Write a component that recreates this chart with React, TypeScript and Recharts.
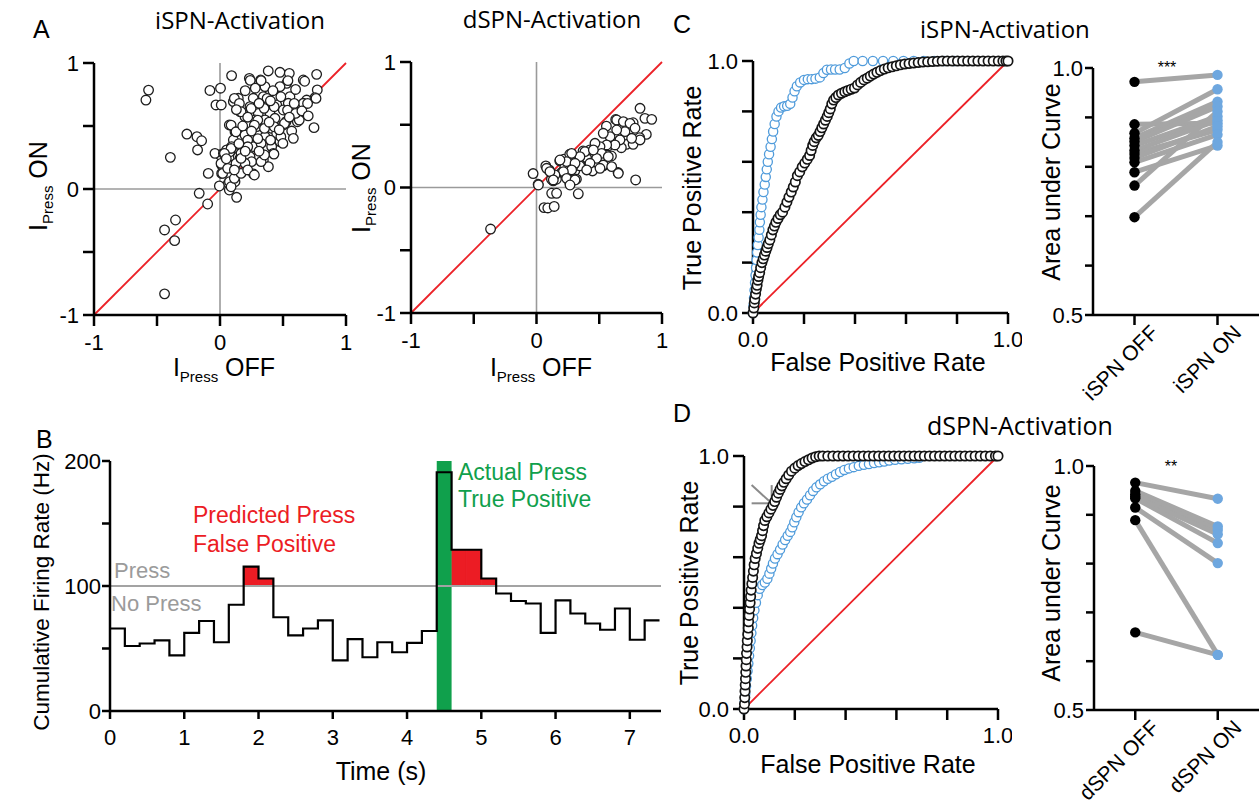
import React from 'react';
import {
  ScatterChart, Scatter, XAxis, YAxis, ReferenceLine, ReferenceArea,
  ComposedChart, Line, LineChart,
} from 'recharts';

const FONT = '"Liberation Sans", Arial, sans-serif';
const TFONT = '"Open Sans", "Liberation Sans", sans-serif';

// ---------------- Panel A data (I_Press OFF, I_Press ON) ----------------
const ispnScatter: [number, number][] = [
  [-0.567, 0.785], [-0.588, 0.706], [-0.394, 0.251], [-0.263, 0.436], [-0.183, 0.415], [-0.146, 0.383],
  [-0.178, 0.31], [-0.165, -0.034], [-0.098, -0.119], [-0.093, 0.124], [-0.44, -0.325], [-0.353, -0.246],
  [-0.36, -0.41], [-0.44, -0.832], [-0.08, 0.782], [0.004, 0.8], [-0.032, 0.667], [0.01, 0.667],
  [0.092, 0.9], [0.233, 0.878], [0.24, 0.862], [0.383, 0.937], [0.476, 0.926], [0.55, 0.918], [0.767, 0.91],
  [0.661, 0.865], [0.322, 0.865], [0.529, 0.839], [0.357, 0.812], [0.476, 0.812], [0.772, 0.786], [0.145, 0.72],
  [0.106, 0.693], [0.264, 0.72], [0.344, 0.733], [0.45, 0.733], [0.555, 0.733], [0.688, 0.706], [0.754, 0.725],
  [0.648, 0.667], [0.542, 0.68], [0.45, 0.667], [0.37, 0.667], [0.238, 0.653], [0.159, 0.614], [0.304, 0.6],
  [0.397, 0.6], [0.502, 0.627], [0.587, 0.6], [0.661, 0.68], [0.198, 0.574], [0.278, 0.548], [0.357, 0.548],
  [0.436, 0.561], [0.524, 0.534], [0.614, 0.534], [0.746, 0.487], [0.074, 0.508], [0.119, 0.455], [0.291, 0.495],
  [0.41, 0.481], [0.502, 0.508], [0.569, 0.46], [0.198, 0.429], [0.264, 0.402], [0.357, 0.415], [0.45, 0.442],
  [0.582, 0.402], [0.476, 0.376], [0.106, 0.389], [0.053, 0.31], [0.0, 0.27], [-0.04, 0.283], [0.092, 0.336],
  [0.172, 0.323], [0.264, 0.336], [0.41, 0.336], [0.145, 0.257], [0.238, 0.257], [0.344, 0.23], [0.423, 0.283],
  [0.027, 0.283], [0.079, 0.296], [0.159, 0.243], [0.251, 0.217], [0.384, 0.177], [0.013, 0.19], [0.079, 0.19],
  [0.013, 0.124], [0.132, 0.138], [0.265, 0.119], [0.119, 0.058], [0.066, 0.045], [-0.005, 0.024], [0.074, -0.008],
  [0.132, -0.066], [0.198, 0.204], [0.114, 0.719], [0.154, 0.679], [0.167, 0.613], [0.247, 0.639], [0.3, 0.547],
  [0.374, 0.719], [0.43, 0.653], [0.483, 0.732], [0.536, 0.626], [0.589, 0.679], [0.629, 0.547], [0.695, 0.679],
  [0.762, 0.719], [0.088, 0.507], [0.127, 0.454], [0.22, 0.388], [0.273, 0.507], [0.353, 0.481], [0.43, 0.494],
  [0.512, 0.52], [0.483, 0.415], [0.499, 0.362], [0.401, 0.388], [0.326, 0.362], [0.22, 0.335], [0.167, 0.283],
  [0.088, 0.322], [0.035, 0.283], [0.008, 0.203], [0.127, 0.203], [0.167, 0.243], [0.326, 0.217], [0.428, 0.277],
  [0.353, 0.27], [0.021, 0.124], [0.075, 0.058], [0.088, 0.018], [0.114, 0.085], [0.167, 0.124], [0.22, 0.151],
  [0.273, 0.111], [0.061, 0.164], [0.114, 0.151], [0.326, 0.86], [0.672, 0.855], [0.539, 0.86], [0.2, 0.78],
  [0.28, 0.8], [0.42, 0.78], [0.6, 0.79], [0.35, 0.64], [0.6, 0.6], [0.18, 0.5], [0.25, 0.46], [0.39, 0.53],
  [0.55, 0.57], [0.3, 0.4], [0.05, 0.24], [0.2, 0.3], [0.31, 0.3], [0.47, 0.47], [0.65, 0.62], [0.7, 0.58],
  [0.15, 0.36], [0.22, 0.57], [0.4, 0.7], [0.31, 0.68], [0.13, 0.63],
];

const dspnScatter: [number, number][] = [
  [-0.366, -0.331], [-0.027, 0.111], [0.013, 0.026], [0.074, 0.172], [0.101, 0.14], [0.06, -0.16], [0.09, -0.163],
  [0.141, -0.151], [0.121, -0.046], [0.16, -0.046], [0.133, 0.053], [0.186, 0.212], [0.218, 0.225], [0.252, 0.119],
  [0.265, 0.265], [0.305, 0.132], [0.333, -0.05], [0.265, 0.04], [0.318, 0.066], [0.324, 0.193], [0.371, 0.291],
  [0.419, 0.198], [0.446, 0.132], [0.451, 0.278], [0.491, 0.317], [0.531, 0.172], [0.557, 0.265], [0.57, 0.331],
  [0.61, 0.357], [0.642, 0.405], [0.65, 0.119], [0.557, 0.489], [0.631, 0.542], [0.69, 0.489], [0.703, 0.384],
  [0.716, 0.344], [0.743, 0.463], [0.77, 0.516], [0.79, 0.06], [0.825, 0.631], [0.864, 0.551], [0.918, 0.543],
  [0.875, 0.423], [0.822, 0.397], [0.77, 0.344], [0.676, 0.317], [0.597, 0.251], [0.531, 0.251], [0.464, 0.204],
  [0.398, 0.238], [0.345, 0.172], [0.292, 0.172], [0.239, 0.193], [0.225, 0.159], [0.199, 0.119], [0.159, 0.066],
  [0.119, 0.066], [0.639, 0.538], [0.692, 0.525], [0.745, 0.511], [0.785, 0.472], [0.825, 0.379], [0.758, 0.392],
  [0.705, 0.445], [0.639, 0.458], [0.586, 0.405], [0.532, 0.432], [0.665, 0.379], [0.625, 0.339], [0.559, 0.339],
  [0.506, 0.326], [0.466, 0.352], [0.426, 0.299], [0.519, 0.272], [0.572, 0.246], [0.479, 0.232], [0.386, 0.286],
  [0.346, 0.246], [0.28, 0.272], [0.24, 0.206], [0.187, 0.219], [0.307, 0.193], [0.426, 0.193], [0.532, 0.179],
  [0.599, 0.166], [0.506, 0.153], [0.652, 0.113], [0.28, 0.14], [0.214, 0.126], [0.147, 0.1], [0.24, 0.073],
  [0.307, 0.06], [0.081, 0.153], [0.107, 0.126], [0.015, 0.02], [0.134, 0.06], [0.267, 0.02], [0.4, 0.14],
  [0.453, 0.299],
];
const unitTicks = [-1, -0.5, 0, 0.5, 1];

// ---------------- Panel B data ----------------
const binEdges = [0, 0.2, 0.4, 0.6, 0.8, 1.0, 1.2, 1.4, 1.6, 1.8, 2.0, 2.2, 2.4, 2.6, 2.8, 3.0, 3.2, 3.4, 3.6,
  3.8, 4.0, 4.2, 4.4, 4.6, 4.8, 5.0, 5.2, 5.4, 5.6, 5.8, 6.0, 6.2, 6.4, 6.6, 6.8, 7.0, 7.2, 7.4];
const firingRate = [66, 52, 54, 56.5, 44.5, 62.5, 72, 55, 85, 115.5, 106, 75, 60.5, 66, 72.5, 40.5, 57.5, 43, 55,
  47, 54.5, 64, 191, 129, 129, 106, 94, 88, 86, 62.5, 88.5, 78, 70, 65, 82, 57, 72.5];
const pressThreshold = 100;
const actualPress = [4.4, 4.6];
const timeTicks = [0, 1, 2, 3, 4, 5, 6, 7];
const rateTicks = [0, 50, 100, 150, 200];

// ---------------- ROC data [FPR, TPR] ----------------
const rocC_black: [number, number][] = [
  [0, 0], [0.003, 0.02], [0.005, 0.04], [0.007, 0.055], [0.01, 0.075], [0.013, 0.095], [0.016, 0.11], [0.019, 0.13],
  [0.022, 0.145], [0.026, 0.16], [0.03, 0.18], [0.035, 0.2], [0.04, 0.215], [0.045, 0.23], [0.05, 0.245],
  [0.055, 0.26], [0.06, 0.275], [0.066, 0.29], [0.072, 0.31], [0.078, 0.33], [0.084, 0.345], [0.09, 0.36],
  [0.098, 0.375], [0.107, 0.39], [0.116, 0.4], [0.125, 0.42], [0.133, 0.44], [0.141, 0.46], [0.15, 0.48],
  [0.158, 0.5], [0.166, 0.52], [0.174, 0.545], [0.183, 0.56], [0.193, 0.58], [0.203, 0.595], [0.213, 0.61],
  [0.222, 0.625], [0.228, 0.645], [0.234, 0.665], [0.24, 0.68], [0.248, 0.695], [0.256, 0.705], [0.263, 0.72],
  [0.27, 0.735], [0.277, 0.75], [0.284, 0.765], [0.291, 0.78], [0.297, 0.795], [0.303, 0.81], [0.309, 0.83],
  [0.316, 0.845], [0.325, 0.855], [0.335, 0.865], [0.347, 0.872], [0.36, 0.878], [0.372, 0.883], [0.385, 0.888],
  [0.398, 0.893], [0.41, 0.905], [0.422, 0.915], [0.435, 0.925], [0.448, 0.932], [0.46, 0.94], [0.473, 0.948],
  [0.486, 0.955], [0.5, 0.962], [0.515, 0.968], [0.53, 0.973], [0.546, 0.977], [0.562, 0.981], [0.578, 0.985],
  [0.595, 0.988], [0.612, 0.99], [0.63, 0.992], [0.648, 0.994], [0.666, 0.996], [0.685, 0.997], [0.704, 0.998],
  [0.723, 0.999], [0.742, 1], [0.762, 1], [0.782, 1], [0.802, 1], [0.822, 1], [0.842, 1], [0.862, 1], [0.882, 1],
  [0.902, 1], [0.922, 1], [0.942, 1], [0.962, 1], [0.98, 1], [0.992, 1], [1, 1],
];
const rocC_blue: [number, number][] = [
  [0, 0], [0.002, 0.03], [0.004, 0.06], [0.006, 0.09], [0.008, 0.12], [0.01, 0.15], [0.012, 0.18], [0.014, 0.21],
  [0.016, 0.24], [0.019, 0.27], [0.022, 0.3], [0.025, 0.33], [0.027, 0.36], [0.03, 0.39], [0.033, 0.42],
  [0.037, 0.45], [0.041, 0.48], [0.046, 0.51], [0.05, 0.54], [0.054, 0.57], [0.058, 0.6], [0.063, 0.63],
  [0.069, 0.66], [0.074, 0.69], [0.079, 0.72], [0.085, 0.75], [0.092, 0.78], [0.1, 0.8], [0.11, 0.815],
  [0.122, 0.82], [0.134, 0.822], [0.146, 0.83], [0.155, 0.855], [0.163, 0.88], [0.172, 0.9], [0.185, 0.915],
  [0.2, 0.925], [0.215, 0.928], [0.23, 0.928], [0.245, 0.93], [0.262, 0.935], [0.276, 0.952], [0.29, 0.965],
  [0.306, 0.966], [0.322, 0.966], [0.34, 0.966], [0.36, 0.972], [0.378, 0.99], [0.395, 1], [0.43, 1], [0.47, 1],
  [0.51, 1], [0.55, 1], [0.59, 1], [0.63, 1], [0.67, 1], [0.71, 1], [0.75, 1], [0.79, 1],
];
const rocD_black: [number, number][] = [
  [0, 0], [0.002, 0.02], [0.003, 0.045], [0.004, 0.07], [0.005, 0.095], [0.006, 0.12], [0.007, 0.145],
  [0.008, 0.17], [0.009, 0.195], [0.01, 0.22], [0.012, 0.245], [0.013, 0.27], [0.015, 0.295], [0.017, 0.32],
  [0.018, 0.345], [0.02, 0.37], [0.022, 0.395], [0.024, 0.42], [0.026, 0.445], [0.028, 0.47], [0.031, 0.495],
  [0.034, 0.52], [0.037, 0.545], [0.04, 0.57], [0.044, 0.595], [0.049, 0.615], [0.054, 0.635], [0.059, 0.655],
  [0.064, 0.67], [0.069, 0.685], [0.073, 0.705], [0.077, 0.725], [0.082, 0.745], [0.09, 0.76], [0.098, 0.775],
  [0.106, 0.79], [0.114, 0.805], [0.121, 0.82], [0.128, 0.837], [0.135, 0.853], [0.142, 0.868], [0.149, 0.882],
  [0.157, 0.896], [0.166, 0.91], [0.176, 0.925], [0.187, 0.94], [0.2, 0.952], [0.213, 0.962], [0.226, 0.97],
  [0.24, 0.978], [0.254, 0.985], [0.268, 0.992], [0.282, 0.997], [0.296, 1], [0.31, 1], [0.33, 1], [0.35, 1],
  [0.37, 1], [0.39, 1], [0.41, 1], [0.43, 1], [0.45, 1], [0.47, 1], [0.49, 1], [0.51, 1], [0.53, 1], [0.55, 1],
  [0.57, 1], [0.59, 1], [0.61, 1], [0.63, 1], [0.65, 1], [0.67, 1], [0.69, 1], [0.71, 1], [0.73, 1], [0.75, 1],
  [0.77, 1], [0.79, 1], [0.81, 1], [0.83, 1], [0.85, 1], [0.87, 1], [0.89, 1], [0.91, 1], [0.93, 1], [0.95, 1],
  [0.97, 1], [0.99, 1], [1, 1],
];
const rocD_blue: [number, number][] = [
  [0, 0], [0.003, 0.03], [0.005, 0.06], [0.008, 0.09], [0.011, 0.12], [0.014, 0.15], [0.017, 0.18], [0.02, 0.21],
  [0.023, 0.24], [0.026, 0.27], [0.029, 0.3], [0.032, 0.33], [0.036, 0.36], [0.041, 0.39], [0.047, 0.42],
  [0.054, 0.45], [0.062, 0.475], [0.072, 0.49], [0.082, 0.5], [0.092, 0.515], [0.1, 0.535], [0.107, 0.555],
  [0.114, 0.575], [0.122, 0.595], [0.132, 0.612], [0.142, 0.63], [0.152, 0.65], [0.162, 0.668], [0.172, 0.685],
  [0.182, 0.7], [0.19, 0.718], [0.198, 0.738], [0.206, 0.758], [0.215, 0.778], [0.225, 0.797], [0.236, 0.813],
  [0.248, 0.828], [0.26, 0.845], [0.272, 0.862], [0.285, 0.876], [0.3, 0.888], [0.315, 0.9], [0.33, 0.91],
  [0.346, 0.918], [0.362, 0.928], [0.378, 0.937], [0.395, 0.945], [0.413, 0.951], [0.432, 0.956], [0.452, 0.961],
  [0.472, 0.965], [0.492, 0.968], [0.512, 0.972], [0.532, 0.975], [0.552, 0.978], [0.572, 0.982], [0.595, 0.985],
  [0.62, 0.987], [0.645, 0.989], [0.67, 0.991], [0.69, 0.993],
];
const rocTicks = [0, 0.2, 0.4, 0.6, 0.8, 1];
const arrowD = { tail: [0.03, 0.885], tip: [0.109, 0.813] };

// ---------------- AUC data ----------------
const aucCats_C = ['iSPN OFF', 'iSPN ON'];
const aucOff_C = [0.972, 0.886, 0.868, 0.858, 0.851, 0.843, 0.833, 0.826, 0.818, 0.809, 0.789, 0.762, 0.698];
const aucOn_C = [0.986, 0.888, 0.957, 0.932, 0.922, 0.902, 0.894, 0.875, 0.882, 0.865, 0.843, 0.912, 0.85];
const aucCats_D = ['dSPN OFF', 'dSPN ON'];
const aucOff_D = [0.966, 0.949, 0.942, 0.937, 0.934, 0.915, 0.889, 0.659];
const aucOn_D = [0.933, 0.876, 0.869, 0.86, 0.842, 0.801, 0.613, 0.613];
const aucTicks = [0.5, 0.6, 0.7, 0.8, 0.9, 1.0];

// ---------------- helpers ----------------
function frame(x0: number, y0: number, x1: number, y1: number, yw: number, xh: number, mt = 14, mr = 14) {
  return {
    style: { position: 'absolute' as const, left: x0 - yw, top: y0 - mt },
    width: x1 - x0 + yw + mr,
    height: y1 - y0 + mt + xh,
    margin: { top: mt, right: mr, left: 0, bottom: 0 },
  };
}
const axisLine = { stroke: '#000', strokeWidth: 2.5 };
const tickLine = { stroke: '#000', strokeWidth: 2.5 };
const tickFont = { fill: '#000', fontSize: 22, fontFamily: FONT };
const toXY = (arr: [number, number][]) => arr.map(([x, y]) => ({ x, y }));

const openCircle = (stroke: string, r: number, sw: number) => (p: any) => (
  <circle cx={p.cx} cy={p.cy} r={r} fill="#fff" stroke={stroke} strokeWidth={sw} />
);

function ScatterPanel({ data, box }: { data: [number, number][]; box: number[] }) {
  const f = frame(box[0], box[1], box[2], box[3], 45, 50);
  return (
    <div style={f.style}>
      <ScatterChart width={f.width} height={f.height} margin={f.margin}>
        <XAxis type="number" dataKey="x" domain={[-1, 1]} ticks={unitTicks} axisLine={axisLine} tickLine={tickLine}
          tickSize={11} tickMargin={8} tick={tickFont} height={50}
          tickFormatter={(v: number) => (Number.isInteger(v) ? String(v) : '')} />
        <YAxis type="number" dataKey="y" domain={[-1, 1]} ticks={unitTicks} axisLine={axisLine} tickLine={tickLine}
          tickSize={11} tickMargin={4} tick={tickFont} width={45}
          tickFormatter={(v: number) => (Number.isInteger(v) ? String(v) : '')} />
        <ReferenceLine x={0} stroke="#9a9a9a" strokeWidth={1.6} />
        <ReferenceLine y={0} stroke="#9a9a9a" strokeWidth={1.6} />
        <ReferenceLine segment={[{ x: -1, y: -1 }, { x: 1, y: 1 }]} stroke="#ec2127" strokeWidth={1.8} />
        <Scatter data={toXY(data)} shape={openCircle('#1e1e1e', 4.8, 1.3)} isAnimationActive={false} />
      </ScatterChart>
    </div>
  );
}

function RocPanel({ black, blue, box, arrow }: { black: [number, number][]; blue: [number, number][]; box: number[]; arrow?: boolean }) {
  const f = frame(box[0], box[1], box[2], box[3], 50, 50);
  const fmt = (v: number) => (v === 0 ? '0.0' : v === 1 ? '1.0' : '');
  return (
    <div style={f.style}>
      <ScatterChart width={f.width} height={f.height} margin={f.margin}>
        <XAxis type="number" dataKey="x" domain={[0, 1]} ticks={rocTicks} axisLine={axisLine} tickLine={tickLine}
          tickSize={11} tickMargin={7} tick={tickFont} height={50} tickFormatter={fmt} />
        <YAxis type="number" dataKey="y" domain={[0, 1]} ticks={rocTicks} axisLine={axisLine} tickLine={tickLine}
          tickSize={11} tickMargin={4} tick={tickFont} width={50} tickFormatter={fmt} />
        <Scatter data={toXY(blue)} shape={openCircle('#4f9bdb', 4.6, 1.3)} isAnimationActive={false} />
        <Scatter data={toXY(black)} shape={openCircle('#141414', 4.7, 1.7)} isAnimationActive={false} />
        <ReferenceLine segment={[{ x: 0, y: 0 }, { x: 1, y: 1 }]} stroke="#ec2127" strokeWidth={1.8} />
        {arrow && (
          <ReferenceLine segment={[{ x: arrowD.tail[0], y: arrowD.tail[1] }, { x: arrowD.tip[0], y: arrowD.tip[1] }]}
            stroke="#8a8a8a" strokeWidth={2} />
        )}
        {arrow && (
          <ReferenceLine segment={[{ x: arrowD.tip[0], y: arrowD.tail[1] }, { x: arrowD.tip[0], y: arrowD.tip[1] }]}
            stroke="#8a8a8a" strokeWidth={2} />
        )}
        {arrow && (
          <ReferenceLine segment={[{ x: arrowD.tail[0], y: arrowD.tip[1] }, { x: arrowD.tip[0], y: arrowD.tip[1] }]}
            stroke="#8a8a8a" strokeWidth={2} />
        )}
      </ScatterChart>
    </div>
  );
}

const RotTick = (props: any) => {
  const { x, y, payload } = props;
  const px = x + 25;
  const py = y + 9;
  return (
    <text x={px} y={py} transform={`rotate(-45 ${px} ${py})`} textAnchor="end" fontSize={21} fontFamily={FONT} fill="#000">
      {payload.value}
    </text>
  );
};

function AucPanel({ cats, off, on, box }: { cats: string[]; off: number[]; on: number[]; box: number[] }) {
  const xh = Math.min(100, 803 - box[3]);
  const f = frame(box[0], box[1], box[2], box[3], 50, xh, 14, 0);
  const rows = [
    Object.fromEntries([['cond', cats[0]], ...off.map((v, i) => [`p${i}`, v])]),
    Object.fromEntries([['cond', cats[1]], ...on.map((v, i) => [`p${i}`, v])]),
  ];
  const pad = (box[2] - box[0]) / 4;
  const fmt = (v: number) => (v === 0.5 ? '0.5' : v === 1 ? '1.0' : '');
  const dot = (p: any) => (
    <circle key={`d-${p.dataKey}-${p.index}`} cx={p.cx} cy={p.cy} r={5.2} fill={p.index === 0 ? '#000' : '#6ea7df'} />
  );
  return (
    <div style={f.style}>
      <LineChart width={f.width} height={f.height} margin={f.margin} data={rows}>
        <XAxis type="category" dataKey="cond" axisLine={axisLine} tickLine={tickLine} tickSize={10} tickMargin={0}
          tick={<RotTick />} interval={0} height={xh} padding={{ left: pad, right: pad }} />
        <YAxis type="number" domain={[0.5, 1]} ticks={aucTicks} axisLine={axisLine} tickLine={tickLine}
          tickSize={8} tickMargin={2} tick={tickFont} width={50} tickFormatter={fmt} />
        {off.map((_, i) => (
          <Line key={`l${i}`} dataKey={`p${i}`} stroke="#a6a6a6" strokeWidth={5} dot={false} activeDot={false}
            isAnimationActive={false} />
        ))}
        {off.map((_, i) => (
          <Line key={`d${i}`} dataKey={`p${i}`} stroke="none" strokeWidth={0} dot={dot} activeDot={false}
            isAnimationActive={false} />
        ))}
      </LineChart>
    </div>
  );
}

function FiringPanel() {
  const f = frame(110, 461, 661, 711, 60, 50);
  const data = binEdges.map((t, i) => ({ t, rate: i < firingRate.length ? firingRate[i] : firingRate[firingRate.length - 1] }));
  const redBins = firingRate
    .map((r, i) => ({ r, x1: binEdges[i], x2: binEdges[i + 1] }))
    .filter((b) => b.r > pressThreshold && !(b.x1 >= actualPress[0] && b.x2 <= actualPress[1] + 1e-9));
  return (
    <div style={f.style}>
      <ComposedChart width={f.width} height={f.height} margin={f.margin} data={data}>
        <XAxis type="number" dataKey="t" domain={[0, 7.42]} ticks={timeTicks} axisLine={axisLine} tickLine={tickLine}
          tickSize={8} tickMargin={10} tick={tickFont} height={50} />
        <YAxis type="number" domain={[0, 200]} ticks={rateTicks} axisLine={axisLine} tickLine={tickLine}
          tickSize={8} tickMargin={1} tick={tickFont} width={60}
          tickFormatter={(v: number) => (v % 100 === 0 ? String(v) : '')} />
        {redBins.map((b, i) => (
          <ReferenceArea key={`r${i}`} x1={b.x1} x2={b.x2} y1={pressThreshold} y2={b.r} fill="#ec1c24" fillOpacity={1}
            stroke="#ec1c24" strokeWidth={0.8} />
        ))}
        <ReferenceLine y={pressThreshold} stroke="#a3a3a3" strokeWidth={2} />
        <ReferenceArea x1={actualPress[0]} x2={actualPress[1]} y1={0} y2={200} fill="#10a04c" fillOpacity={1} stroke="none" />
        <Line type="stepAfter" dataKey="rate" stroke="#000" strokeWidth={2.2} dot={false} activeDot={false}
          isAnimationActive={false} />
      </ComposedChart>
    </div>
  );
}

function RotText({ x, y, size, children }: { x: number; y: number; size: number; children: React.ReactNode }) {
  return (
    <text x={x} y={y} transform={`rotate(-90 ${x} ${y})`} textAnchor="middle" fontSize={size} fontFamily={FONT} fill="#000">
      {children}
    </text>
  );
}

function Overlay() {
  const T = (p: any) => <text fontFamily={FONT} fill="#000" {...p} />;
  return (
    <svg width={1259} height={803} style={{ position: 'absolute', left: 0, top: 0, pointerEvents: 'none' }}>
      <T x={33} y={38} fontSize={25}>A</T>
      <T x={36} y={448} fontSize={25}>B</T>
      <T x={673} y={33} fontSize={25}>C</T>
      <T x={673} y={422} fontSize={25}>D</T>

      <text x={240} y={29} textAnchor="middle" fontSize={24} fontFamily={TFONT} fill="#000">iSPN-Activation</text>
      <text x={552} y={28} textAnchor="middle" fontSize={24} fontFamily={TFONT} fill="#000">dSPN-Activation</text>
      <text x={920} y={38} fontSize={24} fontFamily={TFONT} fill="#000">iSPN-Activation</text>
      <text x={927} y={435} fontSize={25} fontFamily={TFONT} fill="#000">dSPN-Activation</text>

      {/* Panel A axis titles */}
      <RotText x={47} y={186} size={25}>I<tspan fontSize={15} dy={6}>Press</tspan><tspan dy={-6}> ON</tspan></RotText>
      <T x={224} y={376} fontSize={25} textAnchor="middle">I<tspan fontSize={15} dy={6}>Press</tspan><tspan dy={-6}> OFF</tspan></T>
      <RotText x={370} y={188} size={25}>I<tspan fontSize={15} dy={6}>Press</tspan><tspan dy={-6}> ON</tspan></RotText>
      <T x={541} y={376} fontSize={25} textAnchor="middle">I<tspan fontSize={15} dy={6}>Press</tspan><tspan dy={-6}> OFF</tspan></T>

      {/* Panel B */}
      <RotText x={49} y={592} size={22.5}>Cumulative Firing Rate (Hz)</RotText>
      <T x={381} y={780} fontSize={25} textAnchor="middle">Time (s)</T>
      <T x={114} y={578} fontSize={22} fill="#9b9b9b">Press</T>
      <T x={111} y={611} fontSize={22} fill="#9b9b9b">No Press</T>
      <T x={193} y={523} fontSize={23} fill="#ec1c24">Predicted Press</T>
      <T x={193} y={552} fontSize={23} fill="#ec1c24">False Positive</T>
      <T x={458} y={480} fontSize={23} fill="#10a04c">Actual Press</T>
      <T x={458} y={507} fontSize={23} fill="#10a04c">True Positive</T>

      {/* Panel C / D */}
      <RotText x={701} y={188} size={25}>True Positive Rate</RotText>
      <T x={878} y={371} fontSize={25} textAnchor="middle">False Positive Rate</T>
      <RotText x={698} y={583} size={25}>True Positive Rate</RotText>
      <T x={868} y={773} fontSize={25} textAnchor="middle">False Positive Rate</T>
      <RotText x={1060} y={182} size={25}>Area under Curve</RotText>
      <RotText x={1060} y={583} size={25}>Area under Curve</RotText>
      <T x={1167} y={73} fontSize={16} textAnchor="middle">***</T>
      <T x={1171} y={472} fontSize={16} textAnchor="middle">**</T>
    </svg>
  );
}

export default function App() {
  return (
    <div style={{ position: 'absolute', left: 0, top: 0, width: 1259, height: 803, background: '#fff', overflow: 'hidden' }}>
      <ScatterPanel data={ispnScatter} box={[94, 63, 346, 315]} />
      <ScatterPanel data={dspnScatter} box={[411, 62, 662, 313]} />
      <FiringPanel />
      <RocPanel black={rocC_black} blue={rocC_blue} box={[753, 61, 1008, 313]} />
      <AucPanel cats={aucCats_C} off={aucOff_C} on={aucOn_C} box={[1093, 68, 1259, 315]} />
      <RocPanel black={rocD_black} blue={rocD_blue} box={[744, 456, 998, 709]} arrow />
      <AucPanel cats={aucCats_D} off={aucOff_D} on={aucOn_D} box={[1094, 466, 1259, 710]} />
      <Overlay />
    </div>
  );
}
